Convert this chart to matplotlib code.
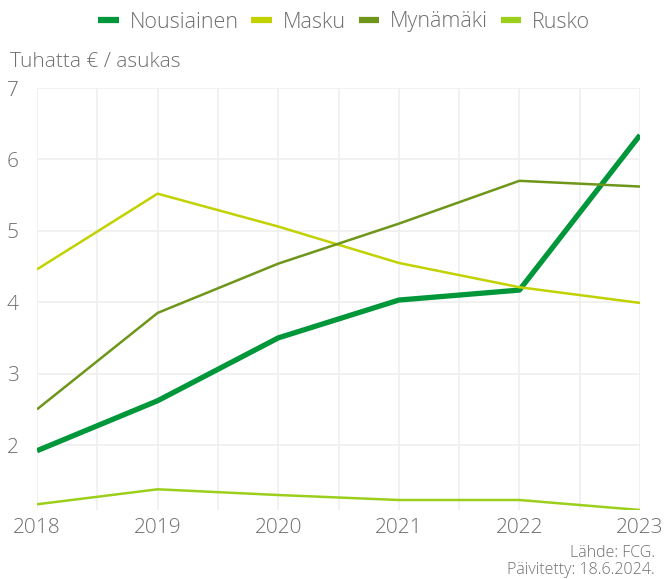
import matplotlib.pyplot as plt
import numpy as np

years = [2018, 2019, 2020, 2021, 2022, 2023]
nousiainen = [1.92, 2.62, 3.50, 4.03, 4.17, 6.34]
masku = [4.46, 5.52, 5.06, 4.55, 4.21, 3.99]
mynamaki = [2.50, 3.85, 4.54, 5.10, 5.70, 5.62]
rusko = [1.17, 1.38, 1.30, 1.23, 1.23, 1.09]

series = [
    ("Nousiainen", nousiainen, "#00963a", 3.8),
    ("Masku", masku, "#c2d100", 1.8),
    ("Mynämäki", mynamaki, "#6e961a", 1.8),
    ("Rusko", rusko, "#9ccf1c", 1.8),
]

plt.rcParams['font.family'] = ['Open Sans', 'DejaVu Sans']
plt.rcParams['font.weight'] = 'light'
text_col = "#6f6f6f"
grid_col = "#efefef"

fig = plt.figure(figsize=(6.67, 5.79), dpi=100)
ax = fig.add_axes([37 / 667, 1 - 510 / 579, 603 / 667, 422 / 579])

for name, vals, col, lw in series:
    ax.plot(years, vals, color=col, lw=lw, label=name, solid_capstyle='butt')

ax.set_xlim(2018, 2023)
ax.set_ylim(min(rusko), 7)
ax.set_xticks(years)
ax.set_xticks(np.arange(2018.5, 2023, 1), minor=True)
ax.set_yticks([2, 3, 4, 5, 6, 7])
ax.grid(True, which='both', color=grid_col, lw=1.2)
ax.set_axisbelow(True)
for s in ax.spines.values():
    s.set_visible(False)
ax.tick_params(which='both', length=0)
ax.tick_params(axis='x', colors=text_col, labelsize=15, pad=6)
ax.tick_params(axis='y', colors=text_col, labelsize=15, pad=13)

fig.text(10 / 667, 1 - 62 / 579, "Tuhatta € / asukas", color=text_col,
         fontsize=15, va='center', ha='left')

leg = fig.legend(loc='center', bbox_to_anchor=(0.516, 1 - 22 / 579), ncol=4,
                 frameon=False, fontsize=15.5, handlelength=0.95,
                 handletextpad=0.5, columnspacing=0.6)
for h in leg.get_lines():
    h.set_linewidth(4.5)
for t in leg.get_texts():
    t.set_color(text_col)

fig.text(655 / 667, 1 - 553 / 579, "Lähde: FCG.", color=text_col,
         fontsize=11.5, ha='right', va='center')
fig.text(655 / 667, 1 - 570 / 579, "Päivitetty: 18.6.2024.", color=text_col,
         fontsize=11.5, ha='right', va='center')

fig.savefig("out.png", dpi=100)
